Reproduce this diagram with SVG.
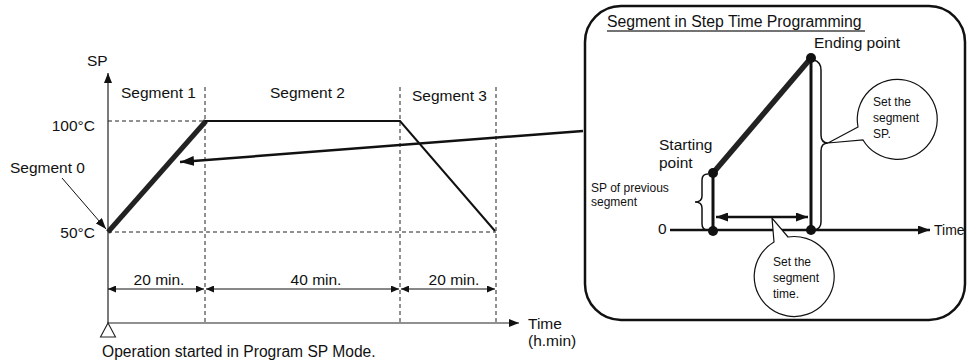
<svg xmlns="http://www.w3.org/2000/svg" width="967" height="361" viewBox="0 0 967 361">
<style>
text{font-family:"Liberation Sans",Arial,sans-serif;fill:#111}
.t{font-size:15.5px}
.s{font-size:12px}
.dash{stroke:#222;stroke-width:1;stroke-dasharray:4 3;fill:none}
.ax{stroke:#222;stroke-width:1.2;fill:none}
.dim{stroke:#111;stroke-width:1;fill:none}
</style>
<defs>
<marker id="axA" viewBox="0 0 10 8" refX="10" refY="4" markerWidth="10" markerHeight="8" markerUnits="userSpaceOnUse" orient="auto"><path d="M0,0 L10,4 L0,8 z" fill="#111"/></marker>
<marker id="dimA" viewBox="0 0 8 7" refX="8" refY="3.5" markerWidth="8" markerHeight="7" markerUnits="userSpaceOnUse" orient="auto-start-reverse"><path d="M0,0 L8,3.5 L0,7 z" fill="#111"/></marker>
<marker id="bigA" viewBox="0 0 14 10" refX="14" refY="5" markerWidth="14" markerHeight="10" markerUnits="userSpaceOnUse" orient="auto"><path d="M0,0 L14,5 L0,10 z" fill="#111"/></marker>
<marker id="insA" viewBox="0 0 12 9" refX="12" refY="4.5" markerWidth="12" markerHeight="9" markerUnits="userSpaceOnUse" orient="auto-start-reverse"><path d="M0,0 L12,4.5 L0,9 z" fill="#111"/></marker>
<marker id="s0A" viewBox="0 0 11 8" refX="11" refY="4" markerWidth="11" markerHeight="8" markerUnits="userSpaceOnUse" orient="auto"><path d="M0,0 L11,4 L0,8 z" fill="#111"/></marker>
</defs>

<g id="chart-grid">
<line class="dash" x1="108" y1="121" x2="205" y2="121"/>
<line class="dash" x1="108" y1="232" x2="496" y2="232"/>
<line class="dash" x1="205" y1="87" x2="205" y2="323"/>
<line class="dash" x1="400" y1="87" x2="400" y2="323"/>
<line class="dash" x1="496" y1="87" x2="496" y2="323"/>
</g>

<g id="axes">
<line class="ax" x1="108" y1="323" x2="108" y2="73" marker-end="url(#axA)"/>
<line class="ax" x1="108" y1="323" x2="519" y2="323" marker-end="url(#axA)"/>
<path d="M108,323 L115.5,337 L100.5,337 z" fill="#fff" stroke="#222" stroke-width="1.1"/>
<text class="t" x="87" y="66">SP</text>
<text class="t" x="528" y="329">Time</text>
<text class="t" x="528" y="346">(h.min)</text>
<text class="t" x="95" y="131" text-anchor="end">100°C</text>
<text class="t" x="95" y="238" text-anchor="end">50°C</text>
<text class="t" x="102" y="357" style="font-size:15.6px">Operation started in Program SP Mode.</text>
</g>

<g id="profile">
<line x1="108" y1="232" x2="206" y2="121" stroke="#222" stroke-width="5"/>
<polyline points="205,121 400,121 495,231" fill="none" stroke="#111" stroke-width="2"/>
</g>

<g id="segment-labels">
<text class="t" x="121" y="98">Segment 1</text>
<text class="t" x="270" y="98">Segment 2</text>
<text class="t" x="412" y="101">Segment 3</text>
<text class="t" x="10" y="173">Segment 0</text>
</g>

<g id="durations">
<line class="dim" x1="108" y1="289" x2="204" y2="289" marker-start="url(#dimA)" marker-end="url(#dimA)"/>
<line class="dim" x1="206" y1="289" x2="399" y2="289" marker-start="url(#dimA)" marker-end="url(#dimA)"/>
<line class="dim" x1="401" y1="289" x2="495" y2="289" marker-start="url(#dimA)" marker-end="url(#dimA)"/>
<text class="t" x="159" y="285" text-anchor="middle">20 min.</text>
<text class="t" x="316" y="285" text-anchor="middle">40 min.</text>
<text class="t" x="454" y="285" text-anchor="middle">20 min.</text>
</g>

<g id="connectors">
<line x1="62" y1="178" x2="106" y2="229" stroke="#111" stroke-width="1" marker-end="url(#s0A)"/>
<line x1="583" y1="131" x2="180" y2="162" stroke="#111" stroke-width="2.5" marker-end="url(#bigA)"/>
</g>

<g id="inset">
<rect x="585" y="6" width="380" height="314" rx="36" ry="36" fill="none" stroke="#111" stroke-width="2.5"/>
<text class="t" x="607" y="27" style="font-size:15.8px">Segment in Step Time Programming</text>
<line x1="607" y1="31" x2="865" y2="31" stroke="#444" stroke-width="1.3"/>

<line x1="670" y1="230" x2="930" y2="230" stroke="#111" stroke-width="2.5" marker-end="url(#insA)"/>
<text class="t" x="934" y="235" style="font-size:14px">Time</text>
<text class="t" x="658" y="234">0</text>

<line x1="713" y1="173" x2="811" y2="58" stroke="#222" stroke-width="5.5"/>
<line x1="713" y1="173" x2="713" y2="231" stroke="#111" stroke-width="3"/>
<line x1="811" y1="58" x2="811" y2="230" stroke="#111" stroke-width="3"/>
<circle cx="713" cy="173" r="5" fill="#111"/>
<circle cx="811" cy="58" r="5" fill="#111"/>
<circle cx="713" cy="231" r="5" fill="#111"/>
<circle cx="811" cy="230" r="5" fill="#111"/>

<line x1="716" y1="217" x2="808" y2="217" stroke="#111" stroke-width="2.5" marker-start="url(#insA)" marker-end="url(#insA)"/>

<path d="M708,174 Q702,174 702,180 L702,196 Q702,202 695,202 Q702,202 702,208 L702,224 Q702,230 708,230" fill="none" stroke="#111" stroke-width="1.5"/>
<path d="M814,60 Q821,62 821,70 L821,135 Q821,143 828,143 Q821,143 821,151 L821,222 Q821,229 814,230" fill="none" stroke="#111" stroke-width="1.5"/>

<text class="t" x="659" y="150">Starting</text>
<text class="t" x="659" y="168">point</text>
<text class="t" x="814" y="48">Ending point</text>
<text class="s" x="591" y="192">SP of previous</text>
<text class="s" x="591" y="206">segment</text>
</g>

<g id="callout-sp">
<path d="M858,127 L828,143 L863,140 A40,40 0 1 0 858,127 Z" fill="#fff" stroke="#111" stroke-width="1.2"/>
<text class="s" x="873" y="106">Set the</text>
<text class="s" x="873" y="122">segment</text>
<text class="s" x="873" y="138">SP.</text>
</g>

<g id="callout-time">
<path d="M774,242 L772,218 L788,237 A40,40 0 1 1 774,242 Z" fill="#fff" stroke="#111" stroke-width="1.2"/>
<text class="s" x="773" y="266">Set the</text>
<text class="s" x="773" y="282">segment</text>
<text class="s" x="773" y="298">time.</text>
</g>
</svg>
